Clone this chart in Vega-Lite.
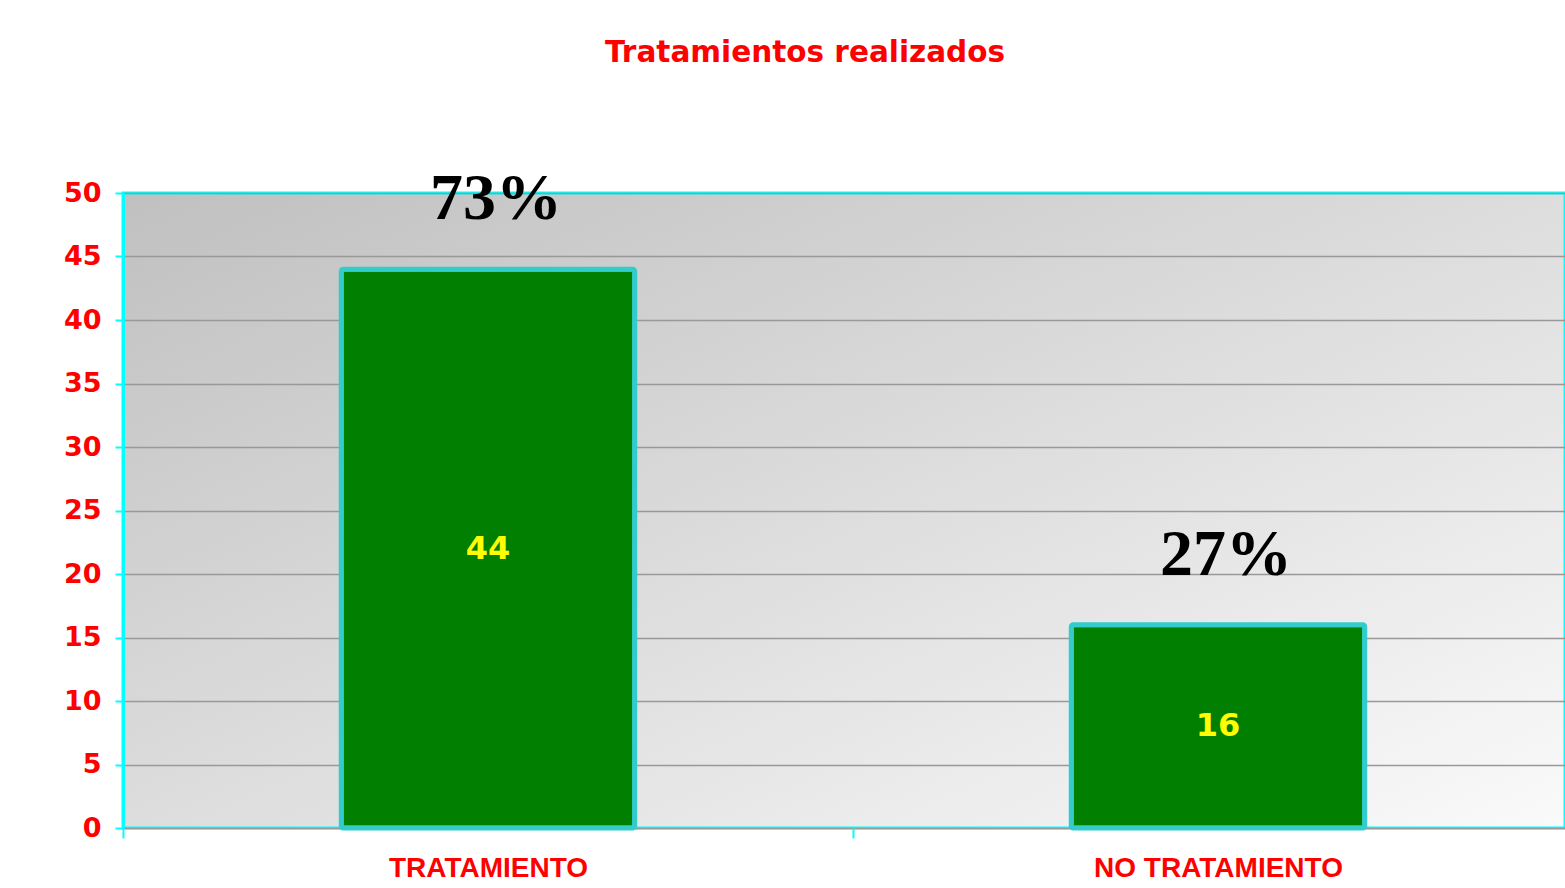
{
  "$schema": "https://vega.github.io/schema/vega-lite/v6.json",
  "autosize": {"type": "none"},
  "width": 1442,
  "height": 635,
  "padding": {"left": 123, "top": 193, "right": 0, "bottom": 60},
  "background": "#ffffff",
  "title": {
    "text": "Tratamientos realizados",
    "color": "#ff0000",
    "font": "DejaVu Sans",
    "fontSize": 29.5,
    "fontWeight": "bold",
    "anchor": "middle",
    "frame": "group",
    "baseline": "alphabetic",
    "offset": 75,
    "dx": -39
  },
  "config": {
    "view": {
      "stroke": "#00ffff",
      "strokeWidth": 3,
      "fill": {
        "gradient": "linear",
        "x1": 0, "y1": 0, "x2": 1, "y2": 1,
        "stops": [
          {"offset": 0, "color": "#c0c0c0"},
          {"offset": 1, "color": "#fafafa"}
        ]
      }
    }
  },
  "data": {
    "values": [
      {"grupo": "TRATAMIENTO", "n": 44, "pct": "73%"},
      {"grupo": "NO TRATAMIENTO", "n": 16, "pct": "27%"}
    ]
  },
  "encoding": {
    "x": {
      "field": "grupo",
      "type": "nominal",
      "sort": null,
      "scale": {"paddingInner": 0, "paddingOuter": 0, "range": [0, 1460]},
      "axis": {
        "title": null,
        "labelAngle": 0,
        "labelLimit": 0,
        "labelFont": "Liberation Sans",
        "labelFontSize": 28,
        "labelFontWeight": "bold",
        "labelColor": "#ff0000",
        "labelPadding": 16,
        "tickBand": "extent",
        "tickColor": "#00ffff",
        "tickWidth": 2,
        "tickSize": 10,
        "domain": false,
        "grid": false
      }
    },
    "y": {
      "field": "n",
      "type": "quantitative",
      "scale": {"domain": [0, 50], "nice": false},
      "axis": {
        "title": null,
        "values": [0, 5, 10, 15, 20, 25, 30, 35, 40, 45, 50],
        "labelFont": "DejaVu Sans",
        "labelFontSize": 27,
        "labelFontWeight": "bold",
        "labelColor": "#ff0000",
        "labelPadding": 14,
        "tickColor": "#00ffff",
        "tickWidth": 2,
        "tickSize": 8,
        "domainColor": "#00ffff",
        "domainWidth": 3,
        "grid": true,
        "gridColor": "#999999",
        "gridWidth": 1.5
      }
    }
  },
  "layer": [
    {
      "mark": {
        "type": "bar",
        "fill": "#007f00",
        "stroke": "#33cccc",
        "strokeWidth": 5,
        "cornerRadius": 2,
        "width": {"band": 0.402}
      }
    },
    {
      "transform": [{"calculate": "datum.n / 2", "as": "mitad"}],
      "mark": {
        "type": "text",
        "font": "DejaVu Sans",
        "fontSize": 32,
        "fontWeight": "bold",
        "color": "#ffff00",
        "baseline": "middle",
        "align": "center"
      },
      "encoding": {
        "text": {"field": "n"},
        "y": {"field": "mitad", "type": "quantitative"}
      }
    },
    {
      "mark": {
        "type": "text",
        "font": "Liberation Serif",
        "fontSize": 66,
        "fontWeight": "bold",
        "color": "#000000",
        "baseline": "alphabetic",
        "align": "center",
        "dy": -50,
        "dx": 8
      },
      "encoding": {
        "text": {"field": "pct"}
      }
    }
  ]
}
